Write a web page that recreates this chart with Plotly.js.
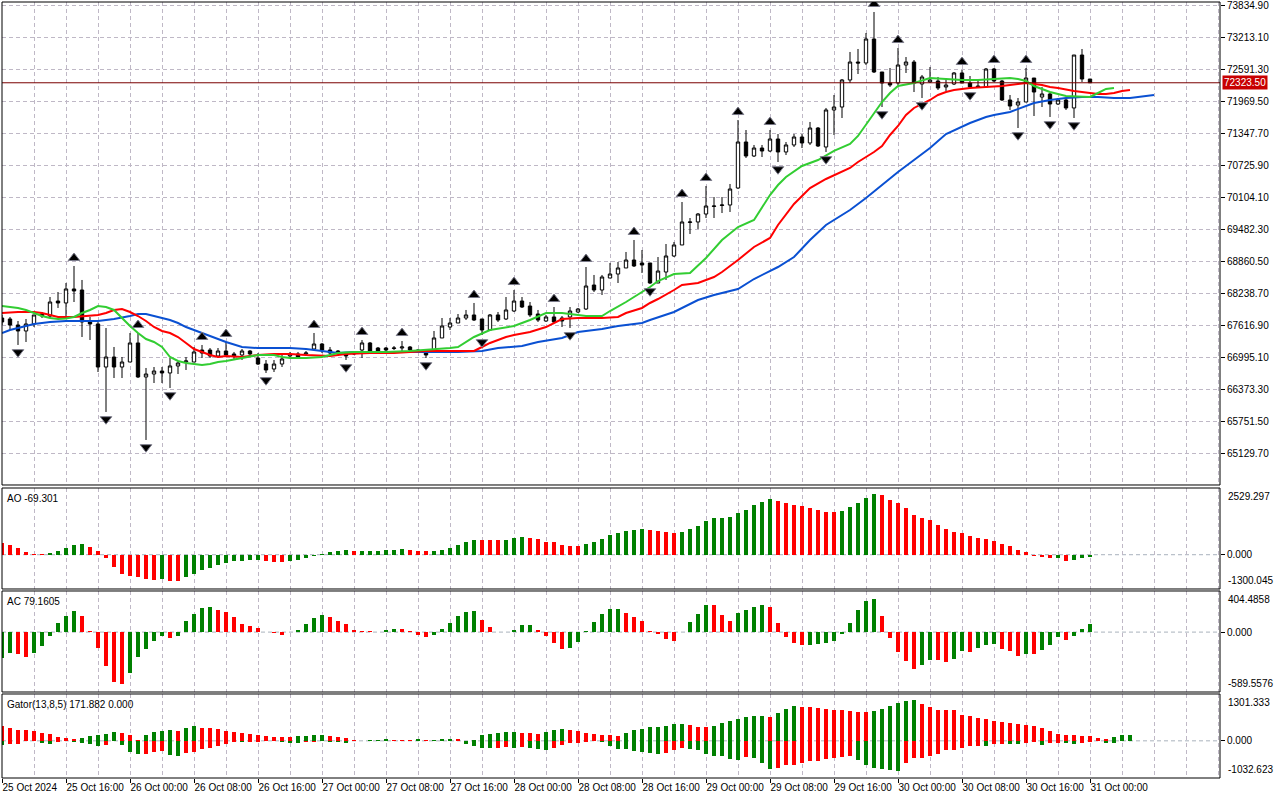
<!DOCTYPE html>
<html><head><meta charset="utf-8">
<script src="https://cdn.plot.ly/plotly-3.0.1.min.js"></script>
<style>html,body{margin:0;padding:0;background:#fff}#chart{width:1280px;height:800px}</style>
</head><body><div id="chart"></div>
<script>
// ---- Candles (hourly bars, 25 Oct 08:00 .. 31 Oct 00:00) ----
const candleOpen = [67753,67734,67617,67501,67637,67831,67792,68083,68045,68317,
68297,67676,67637,66801,66995,66801,66898,67268,66607,66665,
66723,66685,66821,66898,66898,67131,67131,67015,67112,67054,
67034,67112,66976,66859,66762,66859,67015,67054,67054,67151,
67248,67131,67112,67073,67054,67131,67268,67170,67170,67161,
67170,67190,67131,67093,67131,67365,67578,67656,67753,67812,
67734,67520,67812,67734,67889,68083,67986,67831,67695,67773,
67753,67773,67870,67928,68394,68297,68530,68608,68725,68880,
68822,68822,68433,68647,68958,69172,69609,69619,69774,69920,
69939,69949,70279,71173,70901,71056,70998,71231,70979,71115,
71270,71154,71445,71076,71795,71853,72378,72727,72708,73174,
72533,72319,72319,72669,72727,72300,72339,72358,72242,72300,
72514,72319,72261,72242,72591,72358,71989,71892,71950,72416,
72047,72106,71911,71989,71834,72863,72397];
const candleHigh = [67812,67773,67695,67734,67812,67870,68161,68258,68433,68764,
68492,67773,67676,67559,67190,66995,67462,67462,66782,66801,
66801,66976,66898,66995,67190,67229,67170,67170,67287,67093,
67151,67131,67073,66937,66937,67034,67093,67093,67112,67462,
67268,67190,67131,67093,67093,67326,67287,67190,67190,67209,
67306,67209,67151,67131,67501,67753,67753,67831,67909,68045,
67734,67831,67870,68161,68297,68161,68064,67909,67812,67967,
67792,67967,67948,68744,68589,68589,68822,68841,69036,69269,
69074,68822,68938,69191,69230,70007,69696,69793,70318,70104,
70104,70357,71600,71406,71115,71115,71406,71328,71173,71328,
71328,71562,71464,71834,72086,72397,72922,72980,73291,73699,
72533,72611,72999,72824,72766,72475,72630,72436,72378,72533,
72572,72455,72378,72611,72611,72378,72086,72028,72611,72416,
72242,72125,72028,72028,72863,72980,72397];
const candleLow = [67617,67520,67229,67287,67578,67753,67753,67948,67753,68064,
67384,67326,66704,65927,66587,66587,66898,66587,65383,66490,
66490,66393,66665,66743,66898,66976,66976,66976,66995,66937,
66937,67015,66840,66685,66704,66801,66995,66976,67015,67131,
67073,67034,67015,66937,67034,66976,67073,67093,67112,67131,
67093,67112,67073,66976,67093,67365,67520,67656,67714,67695,
67423,67501,67676,67714,67870,67948,67773,67676,67676,67656,
67578,67559,67850,67909,68258,68200,68530,68433,68725,68744,
68628,68414,68433,68492,68938,69172,69385,69483,69696,69696,
69793,69813,70259,70862,70881,70881,70979,70784,70920,71076,
71056,71115,71076,70979,71309,71639,72319,72494,72669,72514,
71853,72242,72280,72514,72144,72028,72319,72183,72164,72280,
72319,72222,72222,72242,72339,71970,71795,71445,71950,71678,
71853,71659,71892,71795,71639,72339,72319];
const candleClose = [67676,67617,67501,67637,67812,67792,68064,68045,68317,68278,
67676,67637,66801,66995,66801,66898,67268,66607,66665,66723,
66685,66821,66879,66918,67093,67073,67015,67112,67034,67015,
67112,67054,66859,66743,66859,66957,67054,66995,67073,67248,
67131,67073,67073,67015,67073,67268,67112,67112,67131,67170,
67190,67131,67093,67034,67365,67598,67656,67753,67812,67714,
67520,67812,67714,67909,68083,67967,67812,67714,67773,67676,
67695,67889,67928,68375,68297,68550,68608,68725,68880,68764,
68783,68433,68666,68958,69172,69619,69619,69774,69929,69929,
69949,70259,71173,70901,71056,70998,71231,70979,71115,71270,
71154,71445,71095,71795,71853,72378,72727,72708,73174,72533,
72319,72280,72669,72727,72319,72436,72378,72222,72280,72514,
72319,72242,72242,72591,72358,71989,71872,71950,72416,72144,
72106,71911,71989,71834,72863,72397,72323.5];

// ---- Fractals (bar indices) ----
const fractalUp = [9,17,25,28,39,45,50,59,64,69,73,79,85,88,92,96,109,112,120,124,128];
const fractalDown = [2,13,18,21,33,43,53,60,71,81,97,103,110,115,121,127,131,134];

// ---- Alligator (bar index, price) ----
const jawIdx = [0,1,2,3,4,6,8,12,14,16,17,18,19,20,21,22,23,24,25,26,27,28,30,32,36,38,40,42,44,48,53,57,60,62,65,67,70,72,75,77,80,81,84,87,89,92,94,97,99,101,103,106,108,110,112,114,116,118,120,121,123,124,126,128,129,131,133,135,137,139,141,142,143,144];
const jawVal = [67462,67520,67559,67598,67637,67676,67695,67695,67734,67792,67831,67831,67792,67753,67714,67656,67578,67520,67462,67404,67345,67287,67190,67170,67170,67151,67112,67073,67093,67093,67093,67093,67112,67170,67209,67287,67365,67481,67540,67598,67656,67714,67870,68103,68200,68317,68511,68744,68938,69269,69560,69852,70085,70337,70590,70823,71056,71328,71464,71542,71659,71698,71756,71872,71931,71989,72028,72047,72047,72028,72028,72047,72067,72086];
const teethIdx = [0,2,4,5,6,7,9,11,12,13,14,15,16,17,18,19,20,21,22,23,24,25,26,27,28,30,32,34,36,38,41,43,46,49,51,53,55,57,59,60,61,63,64,66,68,70,72,75,77,78,80,81,82,84,85,87,89,90,92,94,96,97,99,101,103,106,107,108,109,110,111,112,113,114,115,116,117,118,119,121,123,125,127,128,129,130,131,132,134,135,137,138,139,140,141];
const teethVal = [67850,67870,67870,67850,67812,67773,67773,67792,67812,67850,67909,67928,67870,67792,67695,67578,67501,67462,67384,67268,67151,67093,67034,66995,67015,66995,67034,67054,67054,67034,67015,67054,67073,67073,67093,67112,67112,67112,67112,67190,67268,67384,67423,67481,67578,67734,67753,67753,67773,67850,67948,68045,68122,68297,68394,68433,68550,68647,68880,69133,69308,69560,69968,70279,70454,70668,70784,70881,70979,71095,71309,71484,71698,71834,71911,71989,72086,72144,72183,72222,72242,72261,72300,72319,72300,72280,72242,72222,72164,72144,72106,72106,72125,72164,72183];
const lipsIdx = [0,1,2,3,4,5,6,7,8,9,10,11,12,13,14,15,16,17,18,19,20,21,22,23,24,25,26,27,28,30,32,34,35,36,38,40,42,44,46,48,51,53,54,56,57,58,59,61,63,64,66,68,70,72,73,75,76,78,80,81,82,84,86,87,88,90,92,94,95,96,97,98,100,102,104,106,107,108,109,110,111,112,114,116,118,120,122,124,126,127,128,129,130,131,133,135,136,137,138,139];
const lipsVal = [67986,67967,67948,67909,67850,67792,67753,67734,67743,67773,67850,67909,67986,67967,67909,67753,67598,67462,67345,67287,67190,66995,66918,66879,66859,66840,66859,66898,66918,66976,67034,67034,66995,66976,66976,66995,67073,67093,67093,67093,67112,67131,67151,67170,67190,67287,67384,67520,67578,67598,67714,67850,67850,67812,67792,67792,67889,68064,68258,68356,68472,68608,68628,68764,68919,69269,69521,69657,69891,70143,70337,70493,70707,70823,71000,71134,71290,71503,71736,71950,72125,72261,72319,72416,72397,72378,72378,72397,72416,72397,72358,72261,72203,72144,72067,72047,72047,72125,72203,72222];

// ---- Oscillators ----
const aoValues = [426,360,244,89,23,15,50,128,244,360,
399,283,128,-128,-453,-724,-801,-840,-902,-956,
-917,-979,-995,-840,-735,-592,-491,-375,-298,-244,
-240,-205,-201,-221,-259,-263,-244,-205,-143,-66,
12,89,128,166,128,132,135,139,166,170,
205,166,128,124,128,166,244,360,476,553,
550,546,542,550,631,670,631,592,476,472,
360,321,317,399,476,592,747,824,902,940,
979,940,902,863,824,863,979,1095,1289,1405,
1409,1444,1598,1714,1869,1985,2101,2024,1947,1869,
1830,1753,1714,1637,1633,1676,1792,1947,2140,2295,
2256,2063,1947,1753,1521,1405,1327,1134,979,863,
824,708,631,592,515,399,321,166,89,-66,
-104,-143,-139,-221,-217,-143,-69.301];
const acValues = [-258,-208,-218,-248,-208,-138,-37,93,154,204,
154,13,-158,-338,-489,-509,-399,-248,-168,-87,
-37,-57,-37,113,174,234,244,214,194,144,
83,63,43,3,-13,-27,3,23,83,134,
164,144,113,83,23,13,12,3,23,33,
32,7,-27,-47,-27,33,93,154,194,204,
123,53,3,2,23,73,74,23,-37,-107,
-168,-158,-97,13,103,174,224,225,184,144,
113,13,-23,-67,-87,3,103,174,264,263,
164,113,184,214,244,264,244,93,-47,-107,
-128,-127,-117,-107,-87,-17,93,214,304,324,
154,-57,-198,-288,-368,-328,-278,-279,-298,-268,
-188,-198,-158,-128,-117,-168,-188,-238,-218,-219,
-178,-128,-47,-77,-37,33,79.1605];
const gatorUpper = [402,346,292,289,261,205,177,93,65,62,
65,121,149,177,233,205,149,28,149,233,
261,289,261,346,402,346,343,318,261,233,
205,177,149,121,118,115,112,121,124,149,
152,121,93,65,28,8,14,22,37,34,
28,14,37,28,34,37,39,37,8,28,
149,177,205,233,236,230,205,202,233,289,
318,289,261,205,177,174,149,146,205,289,
318,374,377,402,458,461,430,374,371,402,
486,542,599,655,683,686,655,767,880,964,
936,933,908,880,851,849,823,795,792,823,
880,964,1048,1104,1132,1020,936,851,849,846,
711,683,627,599,542,514,486,458,430,402,
346,261,177,174,149,146,121,65,37,93,
149,171.882];
const gatorLower = [-121,-93,-90,-14,-8,-48,-93,-37,-8,-20,
-65,-93,-149,-121,-14,-121,-301,-357,-354,-301,
-273,-402,-430,-329,-301,-233,-188,-132,-93,-28,
-37,-28,-20,-8,-14,-20,-48,-65,-37,-20,
-14,-37,-39,-48,-14,-8,-14,-8,-14,-8,
-14,-8,-14,-8,-14,-8,-14,-8,-93,-149,
-205,-208,-188,-160,-205,-160,-205,-233,-261,-205,
-121,-65,-62,-37,-8,-37,-149,-233,-236,-289,
-309,-337,-374,-346,-261,-205,-233,-261,-374,-430,
-433,-514,-542,-458,-486,-627,-795,-767,-683,-680,
-627,-570,-568,-514,-486,-458,-430,-542,-683,-767,
-795,-823,-826,-627,-486,-483,-430,-374,-261,-259,
-205,-149,-146,-149,-93,-90,-93,-96,-65,-37,
-121,-65,-62,-65,-93,-65,-37,-14,-65,-67];

// ---- Axis labels ----
const timeTickIdx = [0,8,16,24,32,40,48,56,64,72,80,88,96,104,112,120,128,136];
const timeTickLabels = ["25 Oct 2024","25 Oct 16:00","26 Oct 00:00","26 Oct 08:00","26 Oct 16:00","27 Oct 00:00","27 Oct 08:00","27 Oct 16:00","28 Oct 00:00","28 Oct 08:00","28 Oct 16:00","29 Oct 00:00","29 Oct 08:00","29 Oct 16:00","30 Oct 00:00","30 Oct 08:00","30 Oct 16:00","31 Oct 00:00"];
const priceTicks = [65129.70,65751.50,66373.30,66995.10,67616.90,68238.70,68860.50,69482.30,70104.10,70725.90,71347.70,71969.50,72591.30,73213.10,73834.90];
const aoScale = [-1300.045, 2529.297];
const acScale = [-589.5576, 404.4858];
const gatorScale = [-1032.623, 1301.333];

// ---- build ----
const FONT = 'Liberation Sans, Arial, sans-serif';
const GRID = '#bfb8c6';
const GREEN = '#008000', RED = '#ff0000';
const bars = candleOpen.map((_, i) => i);
const lastClose = candleClose[candleClose.length - 1];

function trendColors(vals, firstColor, useAbs) {
  return vals.map((v, i) => {
    if (i === 0) return firstColor;
    const a = useAbs ? Math.abs(v) : v, b = useAbs ? Math.abs(vals[i-1]) : vals[i-1];
    return a > b ? GREEN : RED;
  });
}

const upOff = 155, downOff = 140;
const traces = [
  {type:'candlestick', x:bars, open:candleOpen, high:candleHigh, low:candleLow, close:candleClose,
   increasing:{line:{color:'#000', width:1}, fillcolor:'#ffffff'},
   decreasing:{line:{color:'#000', width:1}, fillcolor:'#000000'},
   whiskerwidth:0, xaxis:'x', yaxis:'y', hoverinfo:'skip', showlegend:false},
  {type:'scatter', mode:'lines', x:jawIdx, y:jawVal, line:{color:'#0a50d2', width:2}, xaxis:'x', yaxis:'y', hoverinfo:'skip', showlegend:false},
  {type:'scatter', mode:'lines', x:teethIdx, y:teethVal, line:{color:'#ff0000', width:2}, xaxis:'x', yaxis:'y', hoverinfo:'skip', showlegend:false},
  {type:'scatter', mode:'lines', x:lipsIdx, y:lipsVal, line:{color:'#32cd32', width:2}, xaxis:'x', yaxis:'y', hoverinfo:'skip', showlegend:false},
  {type:'scatter', mode:'markers', x:fractalUp, y:fractalUp.map(i => candleHigh[i] + upOff),
   marker:{symbol:'triangle-up', size:10, color:'#000', line:{color:'#7a7a8a', width:1}}, xaxis:'x', yaxis:'y', hoverinfo:'skip', showlegend:false},
  {type:'scatter', mode:'markers', x:fractalDown, y:fractalDown.map(i => candleLow[i] - downOff),
   marker:{symbol:'triangle-down', size:10, color:'#000', line:{color:'#7a7a8a', width:1}}, xaxis:'x', yaxis:'y', hoverinfo:'skip', showlegend:false},
  {type:'bar', x:aoValues.map((_, i) => i), y:aoValues, width:0.55, marker:{color:trendColors(aoValues, RED, false), line:{width:0}}, xaxis:'x', yaxis:'y2', hoverinfo:'skip', showlegend:false},
  {type:'bar', x:acValues.map((_, i) => i), y:acValues, width:0.55, marker:{color:trendColors(acValues, GREEN, false), line:{width:0}}, xaxis:'x', yaxis:'y3', hoverinfo:'skip', showlegend:false},
  {type:'bar', x:gatorUpper.map((_, i) => i), y:gatorUpper, width:0.55, marker:{color:trendColors(gatorUpper, RED, true), line:{width:0}}, xaxis:'x', yaxis:'y4', hoverinfo:'skip', showlegend:false},
  {type:'bar', x:gatorLower.map((_, i) => i), y:gatorLower, width:0.55, marker:{color:trendColors(gatorLower, GREEN, true), line:{width:0}}, xaxis:'x', yaxis:'y4', hoverinfo:'skip', showlegend:false}
];

// panel domains (paper)
const dMain = [0.37758, 1], dAO = [0.24356, 0.37371], dAC = [0.11082, 0.24098], dGator = [0, 0.10825];
const tickFont = {family:FONT, size:10, color:'#000'};
function indAxis(domain, range) {
  return {domain:domain, range:range, side:'right', anchor:'x', tickmode:'array', tickvals:[0], ticktext:['0.000'],
    ticks:'outside', ticklen:4, tickcolor:'#000', showgrid:false, zeroline:false, showline:false, fixedrange:true, tickfont:tickFont};
}
const borders = [dMain, dAO, dAC, dGator].map(d => ({type:'rect', xref:'paper', yref:'paper', x0:0, x1:1, y0:d[0], y1:d[1], line:{color:'#000', width:1}, fillcolor:'rgba(0,0,0,0)', layer:'above'}));
const zeroLines = ['y2','y3','y4'].map(ax => ({type:'line', xref:'paper', x0:0, x1:1, yref:ax, y0:0, y1:0, line:{color:'#a9b2bd', width:1, dash:'4px,3px'}, layer:'below'}));

function edgeLabel(text, yDomainVal, top) {
  return {xref:'paper', yref:'paper', x:1, y:yDomainVal, xanchor:'left', yanchor: top ? 'top' : 'bottom', xshift:6, yshift: top ? -1 : 1,
    text:text, showarrow:false, font:tickFont};
}
function panelLabel(text, d) {
  return {xref:'paper', yref:'paper', x:0, y:d[1], xanchor:'left', yanchor:'top', xshift:3, yshift:-3, text:text, showarrow:false, font:{family:FONT, size:10, color:'#000'}};
}

const layout = {
  width:1280, height:800, margin:{l:2, r:60, t:2, b:22},
  paper_bgcolor:'#ffffff', plot_bgcolor:'#ffffff', showlegend:false,
  boxgap:0.4, barmode:'overlay', bargap:0,
  xaxis:{domain:[0,1], range:[0, 152.25], anchor:'y4', tickmode:'array', tickvals:timeTickIdx, ticktext:timeTickLabels,
    ticks:'outside', ticklen:4, tickcolor:'#000', ticklabelposition:'outside right', tickangle:0, tickfont:tickFont,
    ticklabeloverflow:'allow',
    showgrid:true, gridcolor:GRID, gridwidth:1, griddash:'4px,3px',
    minor:{tickmode:'linear', tick0:0, dtick:4, showgrid:true, gridcolor:GRID, gridwidth:1, griddash:'4px,3px', ticks:''},
    zeroline:false, showline:false, rangeslider:{visible:false}, fixedrange:true},
  yaxis:{domain:dMain, range:[64508.4, 73893.1], side:'right', anchor:'x', tickmode:'array', tickvals:priceTicks,
    ticktext:priceTicks.map(v => v.toFixed(2)), ticks:'outside', ticklen:4, tickcolor:'#000', tickfont:tickFont,
    ticklabeloverflow:'allow',
    showgrid:true, gridcolor:GRID, gridwidth:1, griddash:'4px,3px', zeroline:false, showline:false, fixedrange:true},
  yaxis2:indAxis(dAO, aoScale),
  yaxis3:indAxis(dAC, acScale),
  yaxis4:indAxis(dGator, gatorScale),
  shapes:[
    ...zeroLines,
    {type:'line', xref:'paper', x0:0, x1:1, yref:'y', y0:lastClose, y1:lastClose, line:{color:'#7a0000', width:1}, layer:'above'},
    ...borders
  ],
  annotations:[
    panelLabel('AO ' + aoValues[aoValues.length-1].toFixed(3), dAO),
    panelLabel('AC ' + acValues[acValues.length-1].toFixed(4), dAC),
    panelLabel('Gator(13,8,5) ' + gatorUpper[gatorUpper.length-1].toFixed(3) + ' 0.000', dGator),
    edgeLabel(aoScale[1].toFixed(3), dAO[1], true), edgeLabel(aoScale[0].toFixed(3), dAO[0], false),
    edgeLabel(acScale[1].toFixed(4), dAC[1], true), edgeLabel(acScale[0].toFixed(4), dAC[0], false),
    edgeLabel(gatorScale[1].toFixed(3), dGator[1], true), edgeLabel(gatorScale[0].toFixed(3), dGator[0], false),
    {xref:'paper', yref:'y', x:1, y:lastClose, xanchor:'left', yanchor:'middle', xshift:2, text:lastClose.toFixed(2), showarrow:false,
     bgcolor:'#c80000', borderpad:1, font:{family:FONT, size:10, color:'#ffffff'}}
  ]
};

Plotly.newPlot('chart', traces, layout, {displayModeBar:false, staticPlot:true});
</script>
</body></html>
